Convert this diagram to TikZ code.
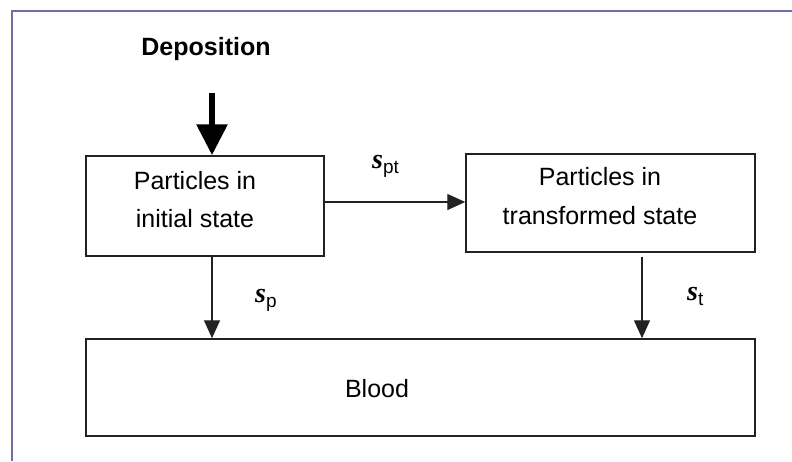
\documentclass[tikz,border=0pt]{standalone}
\usepackage{fontspec}
\setmainfont{Liberation Sans}
\newfontfamily\ratefont{Liberation Serif}
\usetikzlibrary{arrows.meta}

\definecolor{framecol}{HTML}{6E6EA6}
\definecolor{inkcol}{HTML}{222222}

% rate constant: bold italic s with an upright subscript
\newcommand{\rateconst}[1]{{\ratefont\bfseries\itshape\fontsize{28}{28}\selectfont s}\raisebox{-5pt}{\fontsize{19}{19}\selectfont #1}}

\begin{document}
\begin{tikzpicture}[x=1pt,y=-1pt,
  compartment/.style={draw=inkcol, line width=1.5pt, inner sep=0pt},
  boxtext/.style={anchor=base, inner sep=0pt, font=\fontsize{25}{25}\selectfont},
  ratelabel/.style={anchor=base west, inner sep=0pt},
  flow/.style={draw=inkcol, line width=1.4pt, -{Triangle[length=18pt,width=16pt]}},
  inflow/.style={draw=black, line width=6pt, -{Triangle[length=31pt,width=30pt]}},
  framerule/.style={draw=framecol, line width=2.5pt}]

\useasboundingbox (0,0) rectangle (792,461);
\fill[white] (0,0) rectangle (792,461);
\draw[framerule] (12,461) -- (12,11) -- (792,11);

% compartments
\node[compartment, minimum width=238pt, minimum height=100pt] (init) at (205,206) {};
\node[compartment, minimum width=289pt, minimum height=98pt] (trans) at (610.5,203) {};
\node[compartment, minimum width=669pt, minimum height=97pt] (blood) at (420.5,387.5) {};

% compartment texts
\node[boxtext] (initA) at (195,189) {Particles in};
\node[boxtext] (initB) at (195,227) {initial state};
\node[boxtext] (transA) at (600,185) {Particles in};
\node[boxtext] (transB) at (600,224) {transformed state};
\node[boxtext] (bloodT) at (377,397) {Blood};

% deposition input
\node[anchor=base, inner sep=0pt, font=\bfseries\fontsize{25}{25}\selectfont] (dep) at (206,55) {Deposition};
\coordinate (dtop) at (212,93);
\draw[inflow] (dtop) -- (init.north -| dtop);

% transfers
\coordinate (hy) at (0,202);
\draw[flow] (init.east |- hy) -- (trans.west |- hy);
\coordinate (d1) at (212,0);
\draw[flow] (init.south -| d1) -- (blood.north -| d1);
\coordinate (d2) at (642,0);
\draw[flow, shorten <=4pt] (trans.south -| d2) -- (blood.north -| d2);

% rate labels
\node[ratelabel] (spt) at (372,168) {\rateconst{pt}};
\node[ratelabel] (sp) at (255,302) {\rateconst{p}};
\node[ratelabel] (st) at (687,300) {\rateconst{t}};
\end{tikzpicture}
\end{document}
